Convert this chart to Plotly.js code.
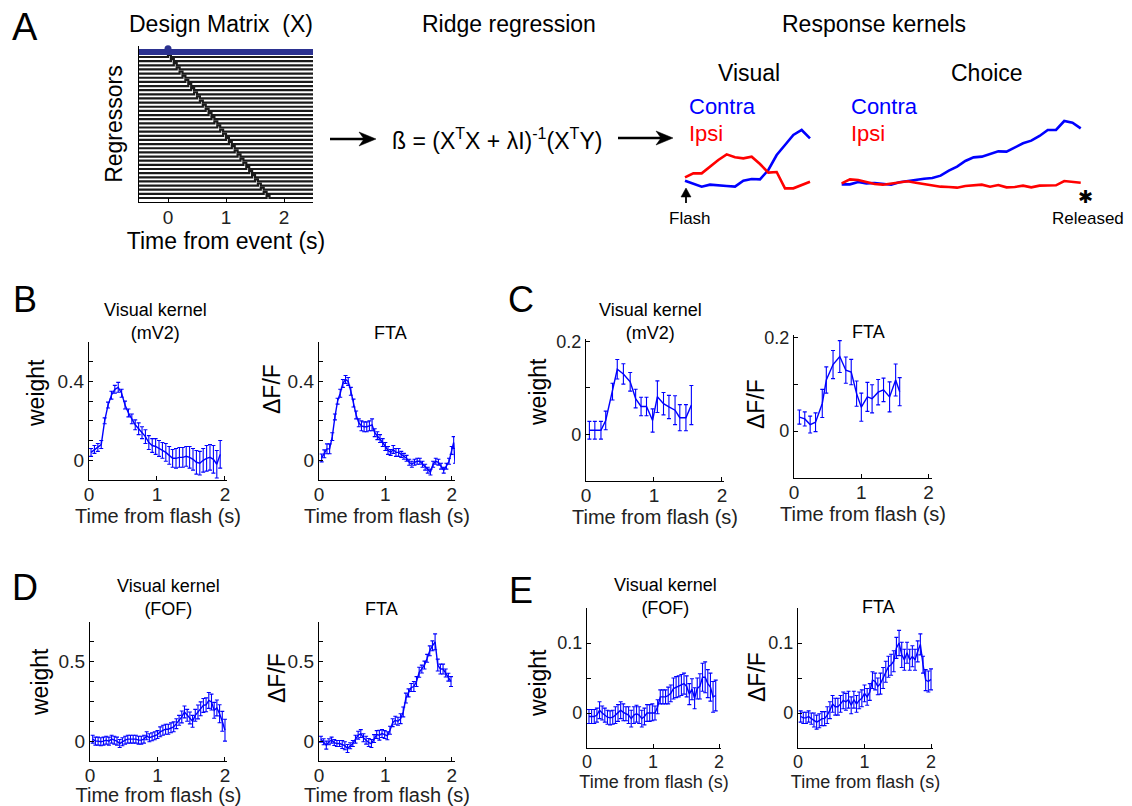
<!DOCTYPE html>
<html><head><meta charset="utf-8">
<script src="https://cdn.plot.ly/plotly-3.0.1.min.js"></script>
<style>html,body{margin:0;padding:0;background:#fff}#chart{width:1132px;height:806px}</style>
</head><body><div id="chart"></div>
<script>
// ---------------- DATA ----------------
// Panel A: design matrix
const regressorLags = [0.00,0.05,0.10,0.15,0.20,0.25,0.30,0.35,0.40,0.45,0.50,0.55,0.60,0.65,0.70,0.75,0.80,0.85,0.90,0.95,1.00,1.05,1.10,1.15,1.20,1.25,1.30,1.35,1.40,1.45,1.50,1.55,1.60,1.65,1.70];
const binWidth = 0.05;
const eventTime = 0;
// Panel A: response kernels (arbitrary units)
const visualTime = [0,0.1,0.2,0.3,0.4,0.5,0.6,0.7,0.8,0.9,1.0,1.1,1.2,1.3,1.4,1.5];
const visualContra = [0.28,0.20,0.10,0.16,0.13,0.12,0.10,0.28,0.33,0.32,0.60,1.05,1.35,1.65,1.80,1.55];
const visualIpsi = [0.38,0.50,0.50,0.70,0.90,1.07,0.98,0.95,1.00,0.78,0.52,0.54,0.05,0.05,0.15,0.25];
const choiceTime = [0,0.1,0.2,0.3,0.4,0.5,0.6,0.7,0.8,0.9,1.0,1.1,1.2,1.3,1.4,1.5,1.6,1.7,1.8,1.9,2.0,2.1,2.2,2.3,2.4,2.5,2.6,2.7,2.8,2.9];
const choiceContra = [0.17,0.17,0.24,0.20,0.21,0.18,0.16,0.23,0.27,0.31,0.34,0.36,0.43,0.58,0.70,0.87,0.98,1.00,1.08,1.16,1.15,1.27,1.40,1.48,1.62,1.80,1.80,2.07,2.02,1.85];
const choiceIpsi = [0.20,0.32,0.30,0.23,0.18,0.16,0.19,0.22,0.26,0.22,0.18,0.13,0.10,0.09,0.07,0.12,0.15,0.16,0.10,0.15,0.08,0.09,0.13,0.08,0.13,0.14,0.14,0.27,0.25,0.22];

// Panel B: visual kernel (mV2)
const tB1 = [0.03,0.08,0.13,0.18,0.23,0.28,0.33,0.38,0.43,0.48,0.53,0.58,0.63,0.68,0.73,0.78,0.83,0.88,0.93,0.98,1.03,1.08,1.13,1.18,1.23,1.28,1.33,1.38,1.43,1.48,1.53,1.58,1.63,1.68,1.73,1.78,1.83,1.88,1.93];
const vB1 = [0.04,0.055,0.065,0.08,0.2,0.28,0.33,0.36,0.37,0.34,0.28,0.24,0.21,0.18,0.16,0.14,0.12,0.09,0.075,0.07,0.06,0.05,0.04,0.025,0.01,0.01,0.015,0.015,0.02,0.015,0.005,-0.01,-0.015,0.0,0.01,0.015,0.005,-0.02,0.03];
const eB1 = [0.02,0.02,0.02,0.02,0.015,0.015,0.02,0.02,0.025,0.02,0.02,0.02,0.025,0.025,0.03,0.03,0.035,0.035,0.035,0.04,0.04,0.04,0.045,0.045,0.045,0.05,0.05,0.05,0.05,0.055,0.055,0.06,0.06,0.06,0.065,0.065,0.07,0.07,0.07];
// Panel B: FTA
const tB2 = [0.04,0.08,0.12,0.16,0.20,0.24,0.28,0.32,0.36,0.40, 0.44,0.48,0.52,0.56,0.60,0.64,0.68,0.72,0.76,0.80, 0.84,0.88,0.92,0.96,1.00,1.04,1.08,1.12,1.16,1.20, 1.24,1.28,1.32,1.36,1.40,1.44,1.48,1.52,1.56,1.60, 1.64,1.68,1.72,1.76,1.80,1.84,1.88,1.92,1.96,2.00, 2.03,2.05];
const vB2 = [0.012,0.033,0.058,0.058,0.12,0.22,0.30,0.34,0.39,0.41, 0.40,0.35,0.29,0.23,0.19,0.175,0.17,0.17,0.175,0.18, 0.14,0.125,0.11,0.09,0.07,0.05,0.04,0.055,0.04,0.04, 0.03,0.02,0.01,-0.01,-0.02,-0.01,-0.005,-0.005,-0.02,-0.035, -0.05,-0.06,-0.02,-0.005,-0.01,-0.03,-0.05,-0.03,-0.005,0.05, 0.09,-0.015];
const eB2 = [0.02,0.02,0.025,0.025,0.02,0.015,0.015,0.02,0.02,0.02, 0.02,0.02,0.02,0.02,0.02,0.025,0.025,0.025,0.025,0.03, 0.02,0.02,0.02,0.02,0.02,0.02,0.015,0.02,0.02,0.02, 0.015,0.015,0.015,0.015,0.015,0.015,0.015,0.015,0.015,0.015, 0.015,0.015,0.015,0.015,0.015,0.015,0.015,0.015,0.015,0.02, 0.03,0];

// Panel C: visual kernel (mV2)
const tC1 = [0.05,0.13,0.22,0.29,0.39,0.46,0.55,0.65,0.73,0.81,0.89,0.98,1.05,1.14,1.22,1.31,1.38,1.47,1.55];
const vC1 = [0.009,0.009,0.009,0.03,0.092,0.14,0.13,0.113,0.077,0.06,0.06,0.03,0.081,0.066,0.059,0.052,0.036,0.036,0.063];
const eC1 = [0.019,0.019,0.019,0.02,0.018,0.021,0.022,0.02,0.02,0.02,0.02,0.025,0.034,0.024,0.025,0.031,0.028,0.028,0.042];
// Panel C: FTA
const tC2 = [0.08,0.16,0.24,0.32,0.42,0.48,0.58,0.68,0.77,0.85,0.93,1.00,1.09,1.16,1.25,1.33,1.42,1.51,1.57];
const vC2 = [0.03,0.026,0.014,0.019,0.059,0.109,0.142,0.159,0.13,0.126,0.08,0.051,0.073,0.069,0.083,0.088,0.073,0.109,0.084];
const eC2 = [0.015,0.015,0.018,0.02,0.03,0.028,0.03,0.034,0.028,0.027,0.027,0.03,0.031,0.03,0.027,0.025,0.032,0.034,0.03];

// Panel D: visual kernel (FOF)
const tD1 = [0.04,0.08,0.12,0.16,0.20,0.24,0.28,0.32,0.36,0.40, 0.44,0.48,0.52,0.56,0.60,0.64,0.68,0.72,0.76,0.80, 0.84,0.88,0.92,0.96,1.00,1.04,1.08,1.12,1.16,1.20, 1.24,1.28,1.32,1.36,1.40,1.44,1.48,1.52,1.56,1.60, 1.64,1.68,1.72,1.76,1.80,1.84,1.88,1.92,1.96,2.00];
const vD1 = [0.01,0,0,-0.003,0,0.005,0,0.01,0.005,0, -0.012,-0.003,0.005,0.01,0.01,0.01,0.01,0.005,0.005,0.01, 0.027,0.017,0.022,0.027,0.033,0.047,0.055,0.06,0.06,0.067, 0.072,0.088,0.105,0.122,0.147,0.13,0.117,0.1,0.13,0.147, 0.163,0.18,0.183,0.205,0.197,0.155,0.167,0.138,0.1,0.055];
const eD1 = [0.02,0.02,0.02,0.02,0.02,0.02,0.02,0.02,0.02,0.02, 0.02,0.02,0.02,0.02,0.02,0.02,0.02,0.02,0.02,0.02, 0.02,0.02,0.02,0.02,0.02,0.025,0.025,0.025,0.025,0.025, 0.025,0.025,0.025,0.03,0.03,0.03,0.03,0.03,0.03,0.035, 0.035,0.035,0.035,0.04,0.04,0.04,0.04,0.045,0.05,0.055];
// Panel D: FTA
const tD2 = [0.03,0.07,0.11,0.15,0.19,0.23,0.27,0.31,0.35,0.39, 0.43,0.47,0.51,0.55,0.59,0.63,0.67,0.71,0.75,0.79, 0.83,0.87,0.91,0.95,0.99,1.03,1.07,1.11,1.15,1.19, 1.23,1.27,1.31,1.35,1.39,1.43,1.47,1.51,1.55,1.59, 1.63,1.67,1.71,1.75,1.79,1.83,1.87,1.91,1.95,1.99];
const vD2 = [0.01,-0.003,-0.02,-0.003,0.005,-0.007,-0.012,-0.012,-0.017,-0.023, -0.037,-0.023,-0.012,0.01,0.03,0.038,0.017,0.005,-0.007,-0.012, 0.013,0.033,0.03,0.038,0.033,0.027,0.055,0.093,0.105,0.1, 0.113,0.147,0.217,0.243,0.27,0.275,0.3,0.347,0.363,0.383, 0.417,0.455,0.48,0.5,0.383,0.363,0.363,0.343,0.322,0.3];
const eD2 = [0.015,0.015,0.02,0.015,0.015,0.015,0.015,0.015,0.02,0.02, 0.02,0.015,0.015,0.02,0.02,0.02,0.02,0.02,0.02,0.02, 0.02,0.02,0.025,0.02,0.02,0.02,0.02,0.02,0.02,0.02, 0.025,0.025,0.025,0.02,0.02,0.025,0.025,0.025,0.02,0.02, 0.02,0.025,0.025,0.04,0.03,0.025,0.025,0.02,0.02,0.025];

// Panel E: visual kernel (FOF)
const tE1 = [0.03,0.07,0.11,0.15,0.19,0.23,0.27,0.31,0.35,0.39, 0.43,0.47,0.51,0.55,0.59,0.63,0.67,0.71,0.75,0.79, 0.83,0.87,0.91,0.95,0.99,1.03,1.07,1.11,1.15,1.19, 1.23,1.27,1.31,1.35,1.39,1.43,1.47,1.51,1.55,1.59, 1.63,1.67,1.71,1.75,1.79,1.83,1.87,1.91,1.95];
const vE1 = [-0.005,-0.005,-0.005,-0.003,0.004,0,-0.003,-0.006,-0.007,-0.006, -0.003,0,0.004,0.001,-0.001,-0.003,-0.008,-0.003,-0.001,-0.003, -0.008,-0.005,0,0,0.001,0,0.009,0.023,0.023,0.023, 0.025,0.028,0.035,0.037,0.038,0.04,0.042,0.038,0.027,0.034, 0.021,0.035,0.038,0.051,0.051,0.042,0.037,0.023,0.025];
const eE1 = [0.01,0.01,0.01,0.01,0.012,0.01,0.01,0.01,0.01,0.01, 0.012,0.012,0.012,0.012,0.01,0.012,0.012,0.012,0.012,0.012, 0.012,0.012,0.012,0.012,0.012,0.01,0.01,0.01,0.01,0.01, 0.012,0.012,0.015,0.015,0.015,0.015,0.015,0.015,0.015,0.015, 0.015,0.015,0.018,0.02,0.022,0.02,0.02,0.022,0.022];
// Panel E: FTA
const tE2 = [0.04,0.08,0.12,0.16,0.20,0.24,0.28,0.32,0.36,0.40, 0.44,0.48,0.52,0.56,0.60,0.64,0.68,0.72,0.76,0.80, 0.84,0.88,0.92,0.96,1.00,1.04,1.08,1.12,1.16,1.20, 1.24,1.28,1.32,1.36,1.40,1.44,1.48,1.52,1.56,1.60, 1.64,1.68,1.72,1.76,1.80,1.84,1.88,1.92,1.96,2.00];
const vE2 = [-0.005,-0.007,-0.007,-0.005,-0.008,-0.01,-0.013,-0.011,-0.008,-0.008, -0.003,0.004,0.013,0.009,0.009,0.013,0.018,0.016,0.019,0.011, 0.019,0.013,0.018,0.021,0.028,0.023,0.03,0.047,0.045,0.038, 0.042,0.05,0.059,0.066,0.069,0.074,0.093,0.1,0.083,0.076, 0.086,0.076,0.081,0.076,0.088,0.098,0.069,0.047,0.045,0.048];
const eE2 = [0.008,0.008,0.008,0.008,0.008,0.01,0.01,0.01,0.01,0.01, 0.012,0.012,0.012,0.012,0.012,0.012,0.012,0.012,0.012,0.012, 0.012,0.012,0.012,0.012,0.012,0.012,0.012,0.012,0.012,0.012, 0.015,0.015,0.015,0.015,0.015,0.015,0.015,0.018,0.018,0.015, 0.015,0.015,0.015,0.015,0.015,0.015,0.012,0.015,0.015,0.015];

// Tick labels
const timeTicks = [0,1,2];
const timeTickText = ['0','1','2'];
const yTicksBD = [-0.1,0,0.1,0.2,0.3,0.4,0.5,0.6];
const yTextB = ['','0','','','','0.4','',''];
const yTextD = ['','0','','','','0.5','',''];
const yTicksC = [-0.1,0,0.1,0.2];
const yTextC = ['','0','','0.2'];
const yTicksE = [-0.05,0,0.05,0.1,0.15];
const yTextE = ['','0','','0.1',''];

// ---------------- LAYOUT HELPERS ----------------
const W = 1132, H = 806;
const FONT = 'Liberation Sans, Arial, Helvetica, sans-serif';
const BLUE = '#0000ff', RED = '#ff0000';
const px = p => p / W;
const py = p => 1 - p / H;
const domX = (a, b) => [a / W, b / W];
const domY = (top, bot) => [1 - bot / H, 1 - top / H];

function baseAxis(extra) {
  return Object.assign({
    showline: true, linecolor: '#000', linewidth: 1.2, mirror: false,
    ticks: 'inside', ticklen: 4, tickwidth: 1, tickcolor: '#000',
    showgrid: false, zeroline: false, fixedrange: true,
    tickfont: {family: FONT, size: 19, color: '#222'}
  }, extra);
}
function xTime(n, d, range, tsize, fsize, standoff) {
  return baseAxis({domain: d, range: range, anchor: 'y' + n, tickvals: timeTicks, ticktext: timeTickText,
    ticklabelstandoff: -3,
    tickfont: {family: FONT, size: fsize, color: '#222'},
    title: {text: 'Time from flash (s)', font: {family: FONT, size: tsize, color: '#222'}, standoff: standoff}});
}
function yVal(n, d, range, tv, tt, fsize) {
  return baseAxis({domain: d, range: range, anchor: 'x' + n, tickvals: tv, ticktext: tt,
    tickfont: {family: FONT, size: fsize, color: '#222'}});
}

// ---------------- TRACES ----------------
const traces = [];
// design matrix rows (one line per regressor, with its lagged pulse)
const rx = [], ry = [];
regressorLags.forEach((lag, i) => {
  rx.push(-0.5, lag, lag, lag + binWidth, lag + binWidth, 2.5, null);
  ry.push(-i, -i, -i + 0.5, -i + 0.5, -i, -i, null);
});
traces.push({x: rx, y: ry, type: 'scatter', mode: 'lines', line: {color: '#1a1a1a', width: 2.2}, xaxis: 'x', yaxis: 'y', hoverinfo: 'skip'});
traces.push({x: [-0.5, 2.5], y: [1.2, 1.2], type: 'scatter', mode: 'lines', line: {color: '#2b3190', width: 6}, xaxis: 'x', yaxis: 'y', hoverinfo: 'skip'});
traces.push({x: [eventTime], y: [2.0], type: 'scatter', mode: 'markers', marker: {color: '#2b3190', size: 7}, xaxis: 'x', yaxis: 'y', hoverinfo: 'skip', cliponaxis: false});
// response kernels
traces.push({x: visualTime, y: visualContra, type: 'scatter', mode: 'lines', line: {color: BLUE, width: 2.6}, xaxis: 'x2', yaxis: 'y2'});
traces.push({x: visualTime, y: visualIpsi, type: 'scatter', mode: 'lines', line: {color: RED, width: 2.6}, xaxis: 'x2', yaxis: 'y2'});
traces.push({x: choiceTime, y: choiceContra, type: 'scatter', mode: 'lines', line: {color: BLUE, width: 2.6}, xaxis: 'x3', yaxis: 'y3'});
traces.push({x: choiceTime, y: choiceIpsi, type: 'scatter', mode: 'lines', line: {color: RED, width: 2.6}, xaxis: 'x3', yaxis: 'y3'});

function errTrace(t, v, e, n) {
  return {x: t, y: v, type: 'scatter', mode: 'lines', line: {color: BLUE, width: 1.4},
    error_y: {type: 'data', array: e, visible: true, color: BLUE, thickness: 1.1, width: 2},
    xaxis: 'x' + n, yaxis: 'y' + n, hoverinfo: 'skip'};
}
traces.push(errTrace(tB1, vB1, eB1, 4));
traces.push(errTrace(tB2, vB2, eB2, 5));
traces.push(errTrace(tC1, vC1, eC1, 6));
traces.push(errTrace(tC2, vC2, eC2, 7));
traces.push(errTrace(tD1, vD1, eD1, 8));
traces.push(errTrace(tD2, vD2, eD2, 9));
traces.push(errTrace(tE1, vE1, eE1, 10));
traces.push(errTrace(tE2, vE2, eE2, 11));

// ---------------- ANNOTATIONS & SHAPES ----------------
const ann = [];
const shapes = [];
function txt(text, x, y, size, opts) {
  ann.push(Object.assign({text: text, x: px(x), y: py(y), xref: 'paper', yref: 'paper', showarrow: false,
    xanchor: 'center', yanchor: 'middle', font: {family: FONT, size: size, color: '#000'}}, opts || {}));
}
function vtxt(text, x, y, size) {
  txt(text, x, y, size, {textangle: -90});
}
function hArrow(x0, x1, y) {
  shapes.push({type: 'line', xref: 'paper', yref: 'paper', x0: px(x0), x1: px(x1 - 10), y0: py(y), y1: py(y), line: {color: '#000', width: 2.4}});
  shapes.push({type: 'path', xref: 'paper', yref: 'paper', fillcolor: '#000', line: {color: '#000', width: 0.5},
    path: `M ${px(x1)} ${py(y)} L ${px(x1 - 17)} ${py(y - 7)} L ${px(x1 - 12)} ${py(y)} L ${px(x1 - 17)} ${py(y + 7)} Z`});
}
// panel letters
txt('A', 25, 27, 38); txt('B', 25, 300, 36); txt('C', 521, 300, 36); txt('D', 25, 587, 36); txt('E', 521, 590, 36);
// panel A texts
txt('Design Matrix  (X)', 221, 24, 23);
txt('Ridge regression', 509, 24, 23);
txt('Response kernels', 874, 24, 23);
txt('ß = (X<sup>T</sup>X + λI)<sup>-1</sup>(X<sup>T</sup>Y)', 497, 139, 23);
hArrow(330, 376, 139);
hArrow(618, 673, 138);
txt('Visual', 749, 73, 23);
txt('Choice', 987, 73, 23);
txt('Contra', 687, 107, 22, {xanchor: 'left', font: {family: FONT, size: 22, color: BLUE}});
txt('Ipsi', 687, 133, 22, {xanchor: 'left', font: {family: FONT, size: 22, color: RED}});
txt('Contra', 849, 107, 22, {xanchor: 'left', font: {family: FONT, size: 22, color: BLUE}});
txt('Ipsi', 849, 133, 22, {xanchor: 'left', font: {family: FONT, size: 22, color: RED}});
// flash arrow
shapes.push({type: 'path', xref: 'paper', yref: 'paper', fillcolor: '#000', line: {color: '#000', width: 0.5},
  path: `M ${px(686)} ${py(188)} L ${px(681)} ${py(197)} L ${px(691)} ${py(197)} Z`});
shapes.push({type: 'line', xref: 'paper', yref: 'paper', x0: px(686), x1: px(686), y0: py(196), y1: py(203), line: {color: '#000', width: 1.8}});
txt('Flash', 690, 218, 17);
txt('✱', 1085, 197, 18);
txt('Released', 1088, 218, 17);
// subplot titles
txt('Visual kernel<br>(mV2)', 155, 321, 18);
txt('FTA', 390, 333, 18);
txt('Visual kernel<br>(mV2)', 650, 321, 18);
txt('FTA', 868, 332, 18);
txt('Visual kernel<br>(FOF)', 168, 597, 18);
txt('FTA', 381, 609, 18);
txt('Visual kernel<br>(FOF)', 665, 596, 18);
txt('FTA', 878, 607, 18);
// y-axis titles
vtxt('weight', 36, 393, 23);
vtxt('ΔF/F', 272, 389, 23);
vtxt('weight', 538, 392, 23);
vtxt('ΔF/F', 756, 404, 23);
vtxt('weight', 40, 682, 23);
vtxt('ΔF/F', 277, 678, 23);
vtxt('weight', 538, 683, 23);
vtxt('ΔF/F', 757, 677, 23);

// ---------------- LAYOUT ----------------
const layout = {
  width: W, height: H, margin: {l: 0, r: 0, t: 0, b: 0}, showlegend: false,
  paper_bgcolor: '#fff', plot_bgcolor: 'rgba(0,0,0,0)',
  font: {family: FONT, color: '#000'},
  annotations: ann, shapes: shapes,
  // design matrix
  xaxis: baseAxis({domain: domX(139, 313), range: [-0.5, 2.5], anchor: 'y', tickvals: timeTicks, ticktext: timeTickText,
    ticklabelstandoff: -2,
    tickfont: {family: FONT, size: 19, color: '#222'},
    title: {text: 'Time from event (s)', font: {family: FONT, size: 23, color: '#000'}, standoff: 2}}),
  yaxis: baseAxis({domain: domY(46, 202), range: [-34.96, 2.65], anchor: 'x', ticks: '', showticklabels: false,
    title: {text: 'Regressors', font: {family: FONT, size: 23, color: '#000'}, standoff: 8}}),
  // kernels (no axes)
  xaxis2: {domain: domX(682.5, 812.5), range: [-0.03, 1.53], visible: false, anchor: 'y2', fixedrange: true},
  yaxis2: {domain: domY(110, 200), range: [-0.3, 2.4], visible: false, anchor: 'x2', fixedrange: true},
  xaxis3: {domain: domX(839.2, 1083.2), range: [-0.03, 2.93], visible: false, anchor: 'y3', fixedrange: true},
  yaxis3: {domain: domY(110, 200), range: [-0.3, 2.4], visible: false, anchor: 'x3', fixedrange: true},
  // B
  xaxis4: xTime(4, domX(89, 227), [0, 2.03], 20, 19, 1),
  yaxis4: yVal(4, domY(342, 480), [-0.1, 0.6], yTicksBD, yTextB, 19),
  xaxis5: xTime(5, domX(319, 455), [0, 2.05], 20, 19, 1),
  yaxis5: yVal(5, domY(342, 480), [-0.1, 0.6], yTicksBD, yTextB, 19),
  // C
  xaxis6: xTime(6, domX(586, 724), [0, 2.03], 20, 19, 1),
  yaxis6: yVal(6, domY(339, 481), [-0.1, 0.205], yTicksC, yTextC, 18),
  xaxis7: xTime(7, domX(794, 932), [0, 2.05], 20, 19, 1),
  yaxis7: yVal(7, domY(335, 478), [-0.1, 0.205], yTicksC, yTextC, 18),
  // D
  xaxis8: xTime(8, domX(90, 227), [0, 2.03], 20, 19, 1),
  yaxis8: yVal(8, domY(622, 761), [-0.1, 0.6], yTicksBD, yTextD, 19),
  xaxis9: xTime(9, domX(319, 455), [0, 2.05], 20, 19, 1),
  yaxis9: yVal(9, domY(622, 761), [-0.1, 0.6], yTicksBD, yTextD, 19),
  // E
  xaxis10: xTime(10, domX(587, 721), [0, 2.03], 18, 18, 1),
  yaxis10: yVal(10, domY(608, 748), [-0.05, 0.15], yTicksE, yTextE, 18),
  xaxis11: xTime(11, domX(798, 933), [0, 2.03], 18, 18, 1),
  yaxis11: yVal(11, domY(608, 748), [-0.05, 0.15], yTicksE, yTextE, 18)
};

Plotly.newPlot('chart', traces, layout, {displayModeBar: false, staticPlot: true});
</script></body></html>
